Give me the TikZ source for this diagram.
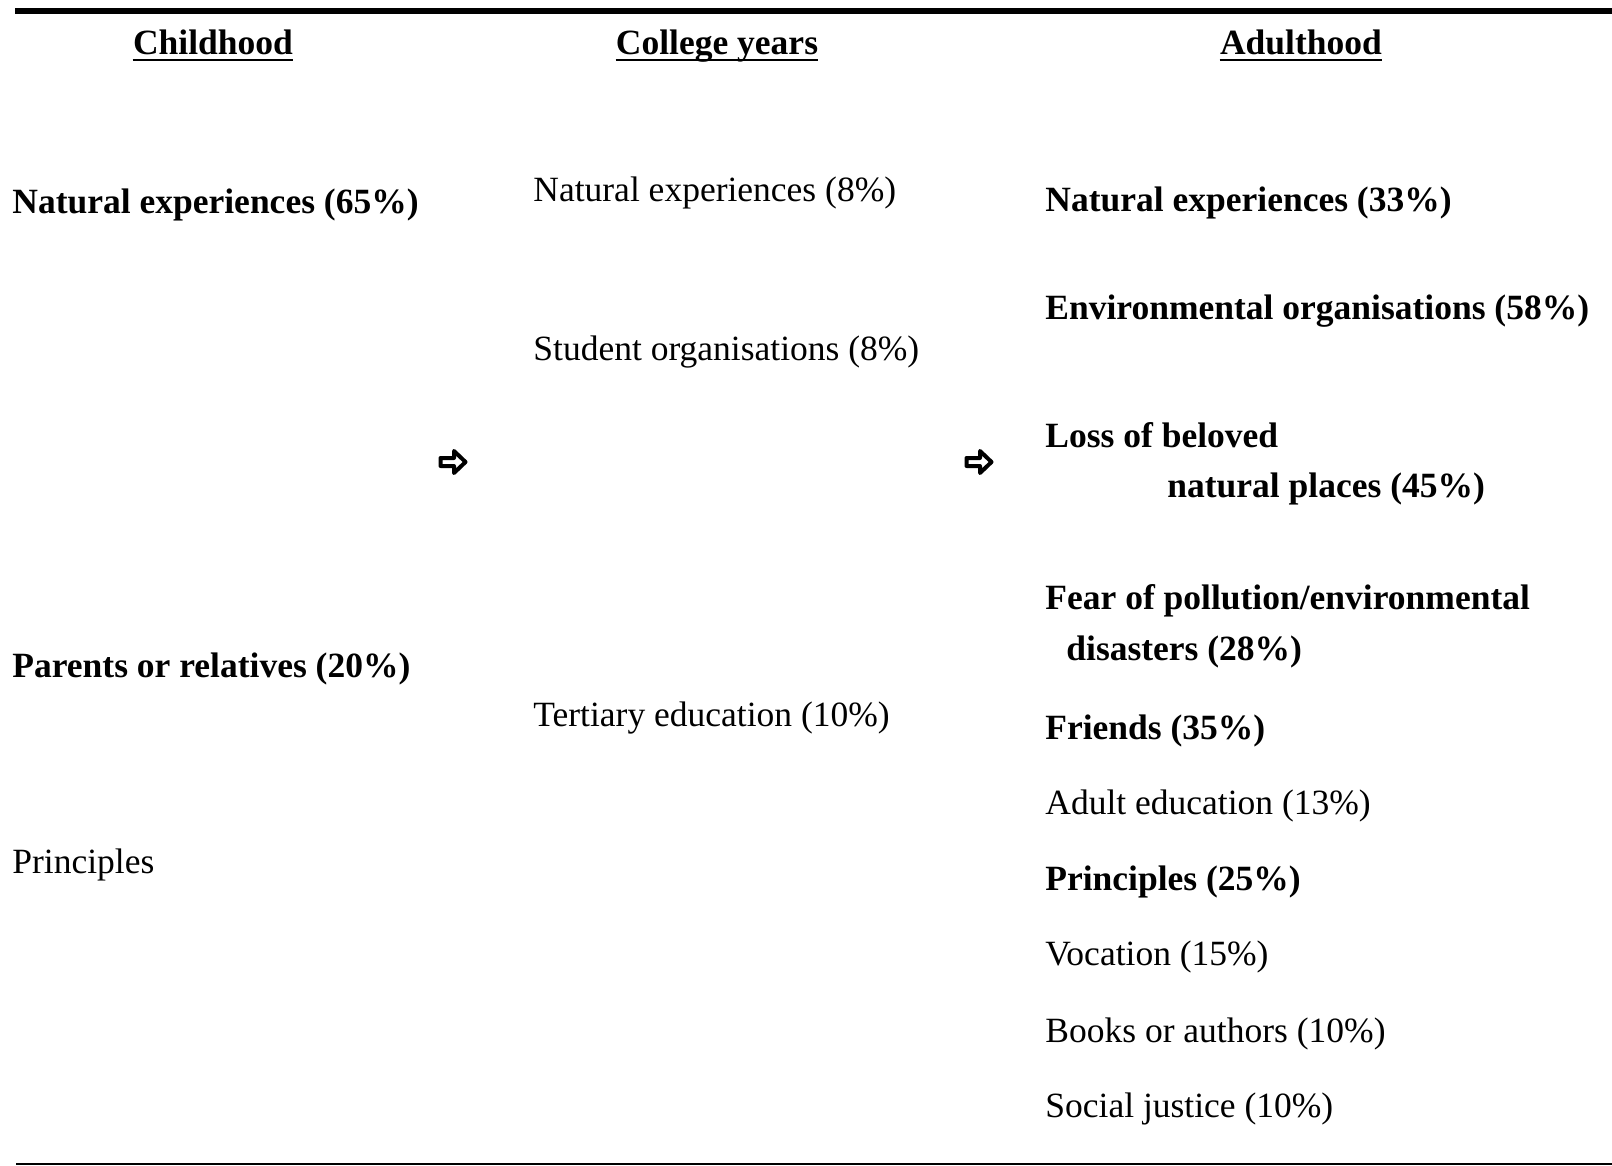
\documentclass[tikz,border=0pt]{standalone}
\usepackage{fontspec}
\setmainfont{Liberation Serif}
\begin{document}
\begin{tikzpicture}[x=0.5pt,y=-0.5pt,
  txt/.style={anchor=west,inner sep=0pt,font=\fontsize{17.75}{21}\selectfont},
  btxt/.style={txt,font=\fontsize{17.75}{21}\selectfont\bfseries},
  head/.style={anchor=base,inner sep=0pt,font=\fontsize{17.75}{21}\selectfont\bfseries},
  uline/.style={line width=1.4pt},
  arrowshape/.style={line width=2pt,line join=round,fill=white}]
\useasboundingbox (0,0) rectangle (1612,1166);
\fill[white] (0,0) rectangle (1612,1166);
\coordinate (tl) at (15,11);
\coordinate (tr) at (1612,11);
\coordinate (bl) at (16,1164);
\coordinate (br) at (1612,1164);
\draw[line width=3pt] (tl) -- (tr);
\draw[line width=1pt] (bl) -- (br);
% headers
\node[head] (h1) at (213,55) {Childhood};
\node[head] (h2) at (717,55) {College years};
\node[head] (h3) at (1301,55) {Adulthood};
\foreach \h in {h1,h2,h3}
  \draw[uline] ([yshift=-2.5pt]\h.base west) -- ([yshift=-2.5pt]\h.base east);
% childhood
\node[btxt] (c1) at (12,205) {Natural experiences (65\%)};
\node[btxt] (c2) at (12,669) {Parents or relatives (20\%)};
\node[txt] (c3) at (12,865) {Principles};
% arrows
\coordinate (a1) at (453,462);
\coordinate (a2) at (979,462);
\foreach \a in {a1,a2}
  \draw[arrowshape,shift={(\a)}] (-12.5,-4) -- (1,-4) -- (1,-11) -- (12.5,0) -- (1,11) -- (1,4) -- (-12.5,4) -- cycle;
% college
\node[txt] (m1) at (533,193) {Natural experiences (8\%)};
\node[txt] (m2) at (533,352) {Student organisations (8\%)};
\node[txt] (m3) at (533,718) {Tertiary education (10\%)};
% adulthood
\node[btxt] (r1) at (1045,203) {Natural experiences (33\%)};
\node[btxt] (r2) at (1045,311) {Environmental organisations (58\%)};
\node[btxt] (r3a) at (1045,435) {Loss of beloved};
\node[btxt] (r3b) at (1167,489) {natural places (45\%)};
\node[btxt] (r4a) at (1045,601) {Fear of pollution/environmental};
\node[btxt] (r4b) at (1066,652) {disasters (28\%)};
\node[btxt] (r5) at (1045,731) {Friends (35\%)};
\node[txt] (r6) at (1045,806) {Adult education (13\%)};
\node[btxt] (r7) at (1045,882) {Principles (25\%)};
\node[txt] (r8) at (1045,957) {Vocation (15\%)};
\node[txt] (r9) at (1045,1034) {Books or authors (10\%)};
\node[txt] (r10) at (1045,1109) {Social justice (10\%)};
\end{tikzpicture}
\end{document}
